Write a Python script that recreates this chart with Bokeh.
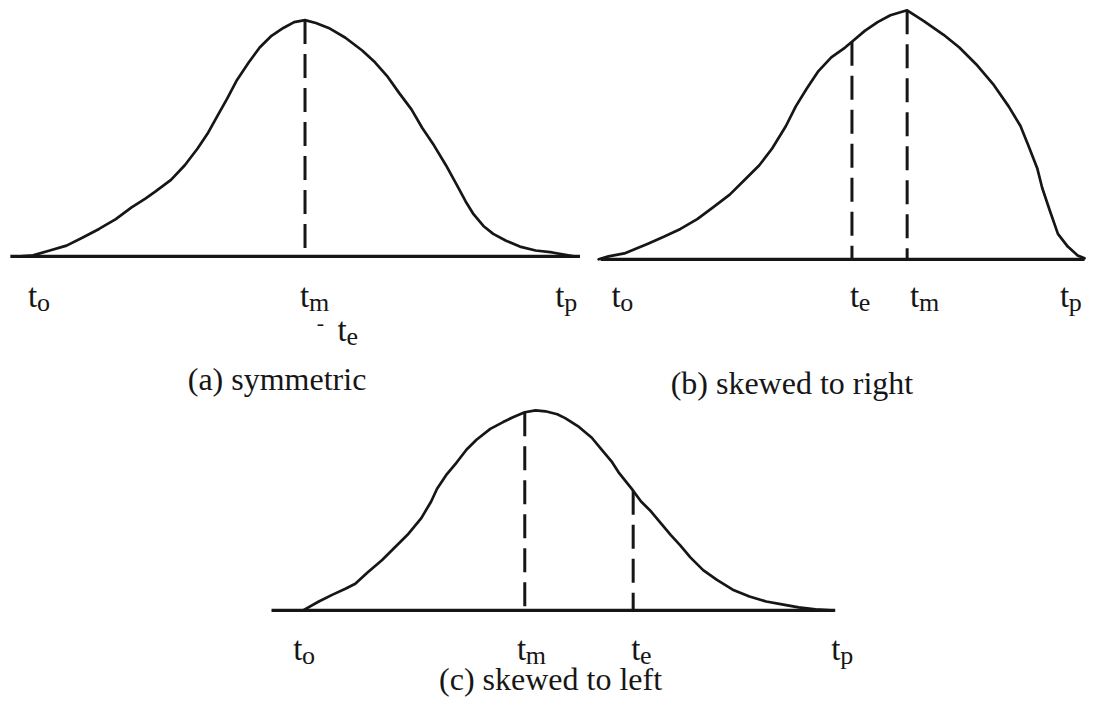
from bokeh.plotting import figure
from bokeh.models import Range1d
from bokeh.embed import file_html
from bokeh.resources import INLINE
from bokeh.core.properties import value

# ---------------- data ----------------
# (a) symmetric: time positions and curve heights above the time axis
a_time = [20, 33, 50, 67, 83, 100, 117, 133, 147, 157, 173, 187, 200, 210, 220,
          230, 240, 252, 263, 275, 287, 298, 309, 320, 333, 350, 367, 380, 393,
          405, 417, 428, 440, 452, 463, 472, 480, 490, 500, 513, 527, 543, 560, 582]
a_freq = [0, 1, 6, 11, 19, 28, 38, 50, 59, 66, 78, 93, 110, 125, 143,
          161, 180, 198, 213, 225, 233, 239, 241, 238, 233, 223, 210, 198, 183,
          166, 150, 131, 113, 93, 73, 56, 43, 31, 23, 16, 10, 6, 4, 0]
a_axis = [10, 588]
a_mode = 309

# (b) skewed to right
b_time = [607, 617, 633, 657, 673, 690, 707, 723, 740, 757, 770, 783, 797, 807,
          818, 830, 843, 857, 864, 877, 890, 903, 920, 937, 957, 973, 990, 1007,
          1023, 1035, 1043, 1052, 1057, 1065, 1073, 1083, 1093, 1100]
b_freq = [0, 3, 6, 16, 23, 31, 41, 53, 66, 83, 96, 113, 136, 156,
          174, 192, 206, 216, 222, 233, 242, 249, 254, 243, 229, 216, 199, 179,
          156, 136, 116, 93, 73, 49, 26, 13, 4, 1]
b_axis = [609, 1100]
b_expected = 864
b_mode = 920

# (c) skewed to left
c_time = [307, 323, 337, 350, 360, 373, 387, 400, 413, 427, 437, 443, 453, 463,
          473, 483, 497, 510, 520, 532, 543, 553, 565, 573, 587, 600, 610, 620,
          627, 642, 650, 660, 670, 680, 690, 700, 713, 727, 743, 760, 777, 793,
          810, 827, 843]
c_freq = [0, 9, 16, 22, 27, 39, 51, 64, 77, 94, 111, 124, 139, 151,
          164, 174, 185, 192, 197, 202, 204, 203, 200, 196, 187, 176, 164, 152,
          141, 122, 111, 101, 89, 77, 66, 54, 41, 31, 21, 14, 9, 6,
          3, 1, 0]
c_axis = [275, 847]
c_mode = 532
c_expected = 642

# tick labels
a_ticks = ["o", "m", "e", "p"]
b_ticks = ["o", "e", "m", "p"]
c_ticks = ["o", "m", "e", "p"]
captions = ["(a) symmetric", "(b) skewed to right", "(c) skewed to left"]

# ---------------- layout (reference picture pixels) ----------------
base = {"a": 263, "b": 266, "c": 624}
tick_x = {"a": [28, 304, 342, 563], "b": [620, 862, 923, 1075], "c": [297, 524, 640, 843]}
tick_y = {"a": [303, 303, 338, 303], "b": [303, 303, 303, 303], "c": [663, 663, 663, 663]}
cap_pos = [(190, 388), (680, 392), (445, 694)]

INK = "#161616"
SERIF = "Liberation Serif"

p = figure(width=1086, height=700, x_range=Range1d(0, 1102), y_range=Range1d(716, 2),
           output_backend="svg", toolbar_location=None, min_border=0)
p.axis.visible = False
p.grid.visible = False
p.outline_line_color = None
p.background_fill_color = "white"
p.border_fill_color = "white"


def height_to_y(key, vals):
    return [base[key] - v for v in vals]


def freq_at(times, freqs, t):
    return freqs[times.index(t)]


# time axes
for key, ax in (("a", a_axis), ("b", b_axis), ("c", c_axis)):
    p.line(ax, [base[key], base[key]], line_color=INK, line_width=3.2)

# curves
for key, times, freqs in (("a", a_time, a_freq), ("b", b_time, b_freq), ("c", c_time, c_freq)):
    p.line(times, height_to_y(key, freqs), line_color=INK, line_width=2.7,
           line_join="round", line_cap="round")

# dashed markers
seg_x, seg_top, seg_bot = [], [], []
for key, times, freqs, marks in (("a", a_time, a_freq, [a_mode]),
                                 ("b", b_time, b_freq, [b_expected, b_mode]),
                                 ("c", c_time, c_freq, [c_mode, c_expected])):
    for m in marks:
        seg_x.append(m)
        seg_top.append(base[key] - freq_at(times, freqs, m))
        seg_bot.append(base[key])
p.segment(x0=seg_x, y0=seg_top, x1=seg_x, y1=seg_bot, line_color=INK,
          line_width=3, line_dash="24 10")

# tick labels: t with subscripts
tx, ty, sx, sy, st = [], [], [], [], []
for key, ticks in (("a", a_ticks), ("b", b_ticks), ("c", c_ticks)):
    for i, s in enumerate(ticks):
        tx.append(tick_x[key][i])
        ty.append(tick_y[key][i])
        sx.append(tick_x[key][i] + 9)
        sy.append(tick_y[key][i] + 7)
        st.append(s)
p.text(x=tx, y=ty, text=["t"] * len(tx), text_font=value(SERIF), text_font_size="33px",
       text_color=INK, text_baseline="alphabetic", text_align="left")
p.text(x=sx, y=sy, text=st, text_font=value(SERIF), text_font_size="26px",
       text_color=INK, text_baseline="alphabetic", text_align="left")

# small stray mark before t_e in (a)
p.text(x=[321], y=[331], text=["-"], text_font=value(SERIF), text_font_size="22px",
       text_color=INK, text_baseline="alphabetic", text_align="left")

# captions
p.text(x=[c[0] for c in cap_pos], y=[c[1] for c in cap_pos], text=captions,
       text_font=value(SERIF), text_font_size="32px", text_color=INK,
       text_baseline="alphabetic", text_align="left")

open("out.html", "w").write(file_html(p, INLINE))
